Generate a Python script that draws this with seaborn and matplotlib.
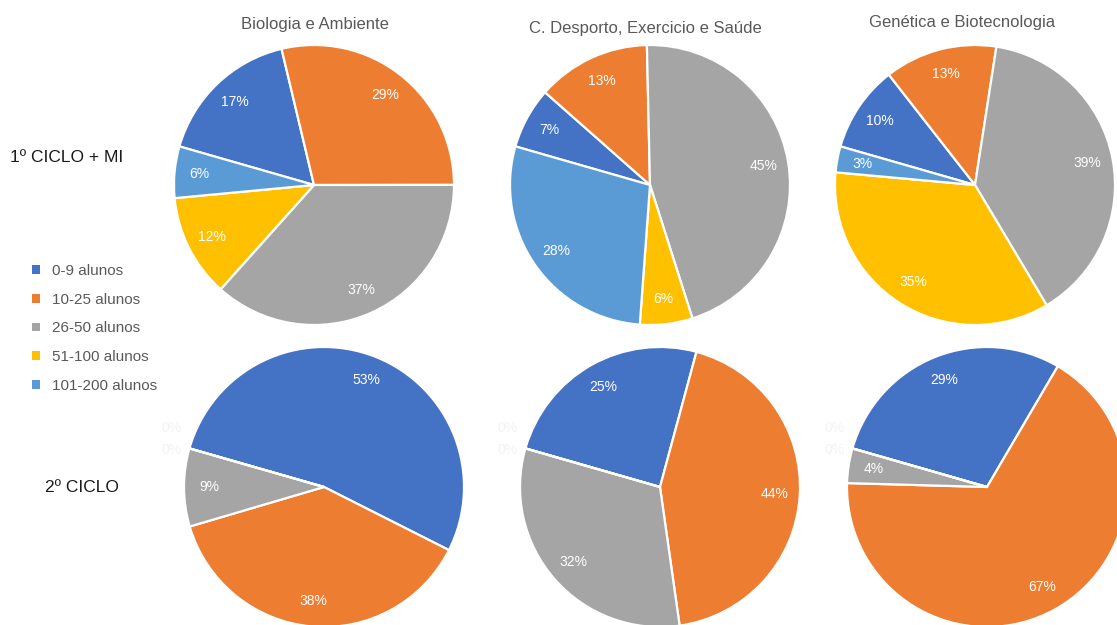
import matplotlib
matplotlib.use("Agg")
import matplotlib.pyplot as plt
import numpy as np
import seaborn as sns

# ---- data ----
courses = ["Biologia e Ambiente", "C. Desporto, Exercicio e Saúde", "Genética e Biotecnologia"]
cycles = ["1º CICLO + MI", "2º CICLO"]
categories = ["0-9 alunos", "10-25 alunos", "26-50 alunos", "51-100 alunos", "101-200 alunos"]
ciclo1_biologia = [17, 29, 37, 12, 6]
ciclo1_desporto = [7, 13, 45, 6, 28]
ciclo1_genetica = [10, 13, 39, 35, 3]
ciclo2_biologia = [53, 38, 9, 0, 0]
ciclo2_desporto = [25, 44, 32, 0, 0]
ciclo2_genetica = [29, 67, 4, 0, 0]
colors_hex = ["#4472C4", "#ED7D31", "#A5A5A5", "#FFC000", "#5B9BD5"]

sns.set_theme(style="white")
palette = sns.color_palette(colors_hex)
arial = ["Liberation Sans", "DejaVu Sans"]
plt.rcParams["font.family"] = arial

W, H = 1117, 625
fig = plt.figure(figsize=(W / 100, H / 100), dpi=100)
fig.patch.set_facecolor("white")

data = [[ciclo1_biologia, ciclo1_desporto, ciclo1_genetica],
        [ciclo2_biologia, ciclo2_desporto, ciclo2_genetica]]
centers = [[(314, 185), (650, 185), (975, 185)],
           [(324, 487), (660, 487), (987, 487)]]
R = 140
START = 164

wedges_for_legend = None
for r in range(2):
    for c in range(3):
        vals = data[r][c]
        cx, cy = centers[r][c]
        ax = fig.add_axes([(cx - R) / W, 1 - (cy + R) / H, 2 * R / W, 2 * R / H])
        total = sum(vals)
        wedges, texts, autotexts = ax.pie(
            vals, colors=palette, startangle=START, counterclock=False, radius=1,
            autopct=lambda p, t=total: (f"{round(p * t / 100):d}%" if p > 0 else ""),
            pctdistance=0.82,
            wedgeprops=dict(edgecolor="white", linewidth=1.6),
            textprops=dict(color="white", fontsize=10, family=arial))
        for w in wedges:
            w.set_clip_on(False)
        ax.set_xlim(-1, 1)
        ax.set_ylim(-1, 1)
        ax.set_aspect("equal")
        ax.axis("off")
        # faint labels for 0% slices (nearly invisible in the original)
        zeros = [i for i, v in enumerate(vals) if v == 0]
        a = np.deg2rad(START)
        for k, i in enumerate(zeros):
            ax.text(1.1 * np.cos(a) - 0.03, 1.1 * np.sin(a) + 0.04 + 0.16 * (len(zeros) - 1 - k) - 0.08,
                    "0%", color="#F3F3F3", fontsize=10, ha="center", va="center",
                    family=arial, clip_on=False)
        if wedges_for_legend is None:
            wedges_for_legend = wedges

# titles
title_pos = [(315, 25), (645, 28), (962, 22)]
for t, (x, y) in zip(courses, title_pos):
    fig.text(x / W, 1 - y / H, t, ha="center", va="center", fontsize=12,
             color="#595959", family=arial)

# row labels
row_pos = [(10, 157), (45, 487)]
for t, (x, y) in zip(cycles, row_pos):
    fig.text(x / W, 1 - y / H, t, ha="left", va="center", fontsize=12.5,
             color="#1A1A1A", family=arial)

# legend
leg = fig.legend(wedges_for_legend, categories, loc="upper left",
                 bbox_to_anchor=(32 / W, 1 - 264 / H), frameon=False,
                 fontsize=11, handlelength=0.5, handleheight=0.5,
                 handletextpad=0.8, labelspacing=0.96, borderpad=0, borderaxespad=0)
for txt in leg.get_texts():
    txt.set_color("#595959")
for h in leg.legend_handles:
    h.set_linewidth(0)

fig.savefig("out.png", dpi=100, facecolor="white")
